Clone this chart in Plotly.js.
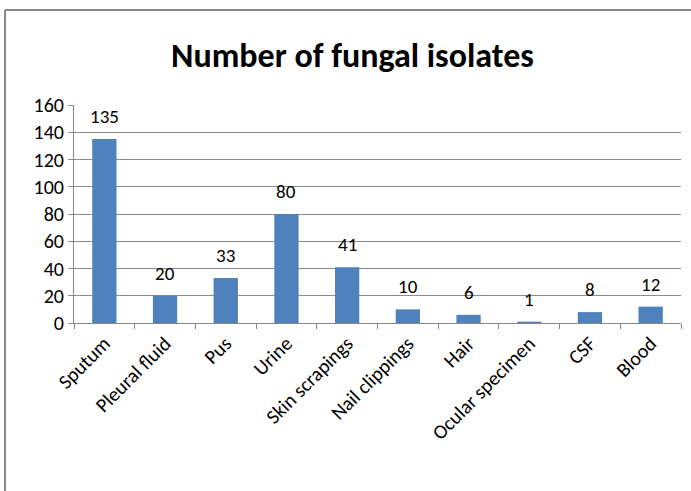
<!DOCTYPE html>
<html><head><meta charset="utf-8">
<script src="https://cdn.plot.ly/plotly-3.0.1.min.js"></script>
<style>html,body{margin:0;padding:0;background:#fff;overflow:hidden;}#c{width:691px;height:491px;}</style>
</head><body><div id="c"></div>
<script>
const categories = ["Sputum","Pleural fluid","Pus","Urine","Skin scrapings","Nail clippings","Hair","Ocular specimen","CSF","Blood"];
const isolates = [135,20,33,80,41,10,6,1,8,12];
const yTicks = [0,20,40,60,80,100,120,140,160];

const FONT = "Carlito, Lato, 'Liberation Sans', sans-serif";
const annotations = categories.map((c,i)=>({
  x:c, y:isolates[i], xref:'x', yref:'y', text:String(isolates[i]),
  showarrow:false, yanchor:'bottom', yshift:9,
  font:{family:FONT,size:19,color:'#000'}
}));

const trace = {type:'bar', x:categories, y:isolates, marker:{color:'#4F81BD'}, hoverinfo:'none'};
const fx0 = (5-74)/607, fy1 = (323-10)/218;
const layout = {
  width:691, height:491,
  margin:{l:74,r:10,t:105,b:168},
  paper_bgcolor:'#fff', plot_bgcolor:'#fff',
  bargap:0.6,
  showlegend:false,
  title:{text:'<b>Number of fungal isolates</b>', x:0.51, xanchor:'center', y:0.888, yanchor:'middle',
    font:{family:FONT,size:34,color:'#000'}},
  xaxis:{type:'category', tickangle:-45, showline:true, linecolor:'#868686', linewidth:1,
    ticks:'outside', ticklen:5, tickcolor:'#868686', tickson:'boundaries',
    tickfont:{family:FONT,size:20,color:'#000'}, showgrid:false, fixedrange:true},
  yaxis:{range:[0,160], tickvals:yTicks, ticktext:yTicks.map(String), showgrid:true, gridcolor:'#8c8c8c', gridwidth:1,
    showline:true, linecolor:'#868686', ticks:'outside', ticklen:5, tickcolor:'#8c8c8c',
    tickfont:{family:FONT,size:20,color:'#000'}, zeroline:false, fixedrange:true},
  annotations:annotations,
  shapes:[
    {type:'line', xref:'paper', yref:'paper', x0:fx0, x1:1.1, y0:fy1, y1:fy1, line:{color:'#888', width:2}, layer:'below'},
    {type:'line', xref:'paper', yref:'paper', x0:fx0, x1:fx0, y0:fy1, y1:-1.5, line:{color:'#888', width:2}, layer:'below'}
  ]
};
Plotly.newPlot('c',[trace],layout,{staticPlot:true,displayModeBar:false});
</script></body></html>
